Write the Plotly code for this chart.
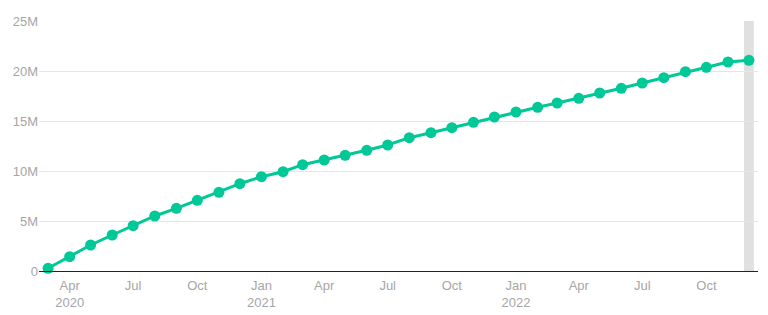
import plotly.graph_objects as go
import pandas as pd

months = pd.date_range("2020-03-01", "2022-12-01", freq="MS").strftime("%Y-%m-%d").tolist()
values_m = [0.27, 1.43, 2.6, 3.6, 4.53, 5.5, 6.27, 7.07, 7.87, 8.73,
            9.43, 9.93, 10.63, 11.1, 11.57, 12.07, 12.6, 13.33, 13.83, 14.33, 14.87, 15.4,
            15.9, 16.37, 16.8, 17.27, 17.8, 18.27, 18.8, 19.33, 19.93, 20.37, 20.9, 21.07]
values = [v * 1e6 for v in values_m]

tick_vals = ["2020-04-01", "2020-07-01", "2020-10-01", "2021-01-01", "2021-04-01",
             "2021-07-01", "2021-10-01", "2022-01-01", "2022-04-01", "2022-07-01", "2022-10-01"]
tick_text = ["Apr<br>2020", "Jul", "Oct", "Jan<br>2021", "Apr", "Jul", "Oct",
             "Jan<br>2022", "Apr", "Jul", "Oct"]

color = "#00c896"
label_color = "#a6a6a6"

fig = go.Figure()
fig.add_trace(go.Scatter(
    x=months, y=values, mode="lines+markers",
    line=dict(color=color, width=3),
    marker=dict(color=color, size=11),
    cliponaxis=False,
))

fig.add_shape(type="rect", xref="x", yref="paper",
              x0="2022-11-24", x1="2022-12-08", y0=0, y1=1,
              fillcolor="#e0e0e0", line_width=0, layer="below")

fig.update_layout(
    width=768, height=315,
    margin=dict(l=39, r=10, t=21, b=44),
    paper_bgcolor="white", plot_bgcolor="white",
    showlegend=False,
    font=dict(family="Liberation Sans, Arial, sans-serif", size=13, color=label_color),
    xaxis=dict(
        range=["2020-02-17", "2022-12-14"],
        tickmode="array", tickvals=tick_vals, ticktext=tick_text,
        showgrid=False, showline=True, linecolor="#222222", linewidth=1,
        ticks="", zeroline=False, ticklabelstandoff=2, automargin=False,
        tickfont=dict(color=label_color, size=13),
    ),
    yaxis=dict(
        range=[0, 25e6], dtick=5e6, tickformat="~s",
        showgrid=True, gridcolor="#e6e6e6", gridwidth=1,
        zeroline=False, ticks="", ticklen=0, automargin=False,
        tickfont=dict(color=label_color, size=13),
    ),
)

fig.write_html("out.html")
